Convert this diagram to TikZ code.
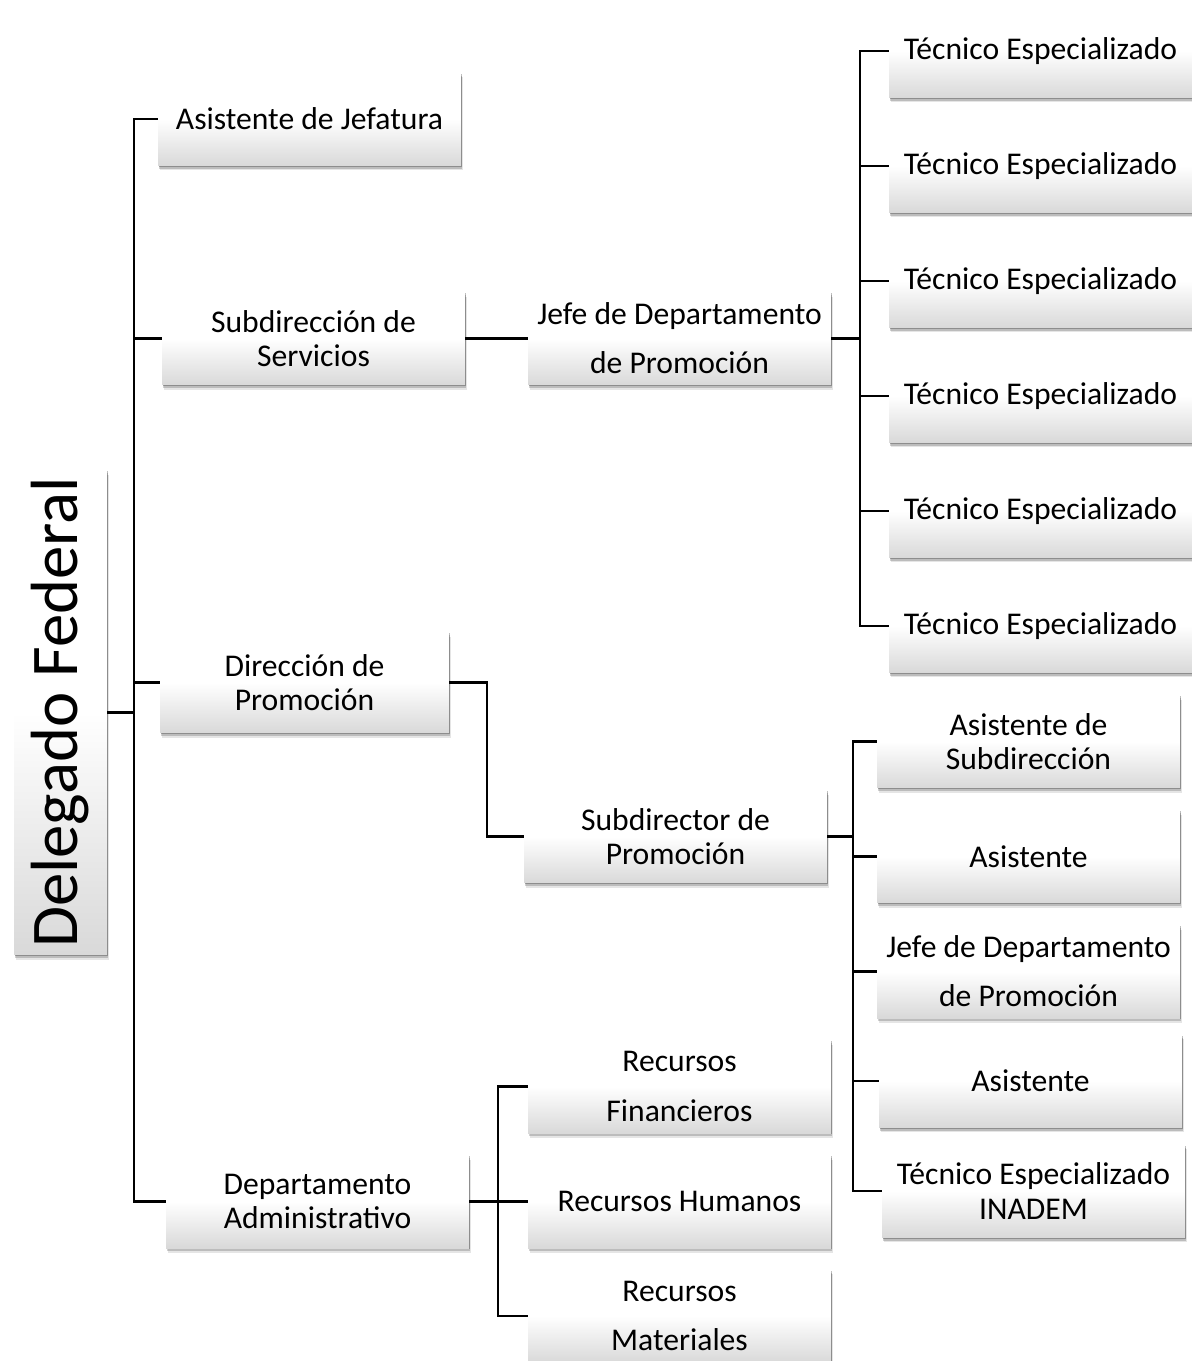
\documentclass[tikz,border=0pt]{standalone}
\usepackage{fontspec}
\setmainfont{Carlito}
\usetikzlibrary{shadows}

\tikzset{
  cargo/.style={minimum width=6.06cm, minimum height=1.86cm, inner sep=2pt, align=center,
    top color=white, bottom color=black!15, middle color=white,
    drop shadow={shadow xshift=0.3pt, shadow yshift=-0.8pt, opacity=0.25, fill=black},
    drop shadow={shadow xshift=0.7pt, shadow yshift=-1.8pt, opacity=0.18, fill=black},
    drop shadow={shadow xshift=1.1pt, shadow yshift=-2.8pt, opacity=0.1, fill=black},
    font=\fontsize{18}{19.5}\selectfont},
  rama/.style={line width=1.2pt, black}
}

\begin{document}
\begin{tikzpicture}[x=0.02cm, y=-0.02cm]
  \useasboundingbox (0,0) rectangle (1192,1361);

  % Delegado
  \node[cargo, minimum width=1.86cm, minimum height=9.7cm, font=\fontsize{38}{40}\selectfont] (del) at (60.5,712.5) {\rotatebox{90}{Delegado Federal}};

  % Primer nivel
  \node[cargo] (asj) at (309.5,119) {Asistente de Jefatura};
  \node[cargo] (ssv) at (313.5,338.5) {Subdirección de\\Servicios};
  \node[cargo, minimum width=5.78cm, minimum height=2.02cm] (dpr) at (304.5,682.5) {Dirección de\\Promoción};
  \node[cargo] (dad) at (317.5,1201.5) {Departamento\\Administrativo};

  % Segundo nivel
  \node[cargo] (jdp1) at (679.5,338.5) {Jefe de Departamento\\[8.5pt]de Promoción};
  \node[cargo] (sdp) at (675.5,836.5) {Subdirector de\\Promoción};
  \node[cargo] (rfi) at (679.5,1086.5) {Recursos\\[8.5pt]Financieros};
  \node[cargo] (rhu) at (679.5,1201.5) {Recursos Humanos};
  \node[cargo] (rma) at (679.5,1316) {Recursos\\[8.5pt]Materiales};

  % Tercer nivel
  \foreach \i in {1,...,6}
  {
    \pgfmathsetmacro{\y}{51+115*(\i-1)}
    \node[cargo] (tec\i) at (1040.5,\y) {Técnico Especializado};
  }
  \node[cargo] (asd) at (1028.5,741.5) {Asistente de\\Subdirección};
  \node[cargo] (as1) at (1028.5,856.5) {Asistente};
  \node[cargo] (jdp2) at (1028.5,971.5) {Jefe de Departamento\\[8.5pt]de Promoción};
  \node[cargo] (as2) at (1030.5,1081) {Asistente};
  \node[cargo] (tei) at (1033.5,1191) {Técnico Especializado\\INADEM};

  % Ramas
  \coordinate (t0) at (134,712.5);
  \coordinate (t1) at (860,338.5);
  \coordinate (t2) at (487,682.5);
  \coordinate (t3) at (853,836.5);
  \coordinate (t4) at (498,1201.5);

  \draw[rama] (del.east) -- (t0);
  \foreach \n in {asj,ssv,dpr,dad}
    \draw[rama] (t0) |- (\n.west);

  \draw[rama] (ssv.east) -- (jdp1.west);

  \draw[rama] (jdp1.east) -- (t1);
  \foreach \i in {1,...,6}
    \draw[rama] (t1) |- (tec\i.west);

  \draw[rama] (dpr.east) -- (t2) |- (sdp.west);

  \draw[rama] (sdp.east) -- (t3);
  \foreach \n in {asd,as1,jdp2,as2,tei}
    \draw[rama] (t3) |- (\n.west);

  \draw[rama] (dad.east) -- (t4);
  \foreach \n in {rfi,rhu,rma}
    \draw[rama] (t4) |- (\n.west);
\end{tikzpicture}
\end{document}
